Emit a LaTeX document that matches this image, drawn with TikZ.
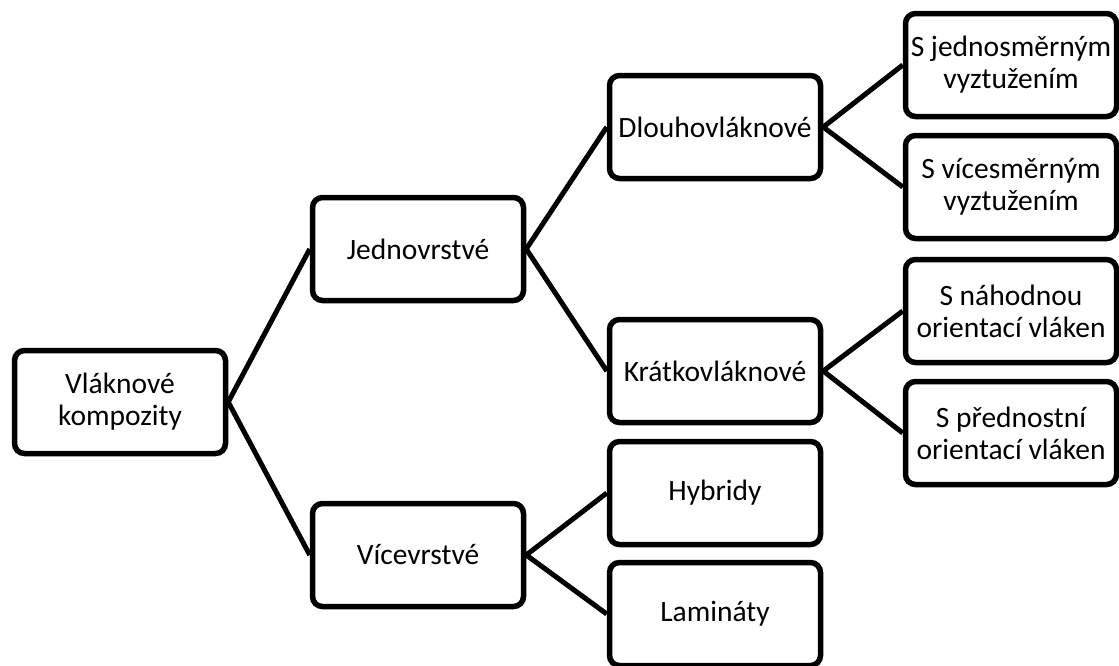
\documentclass[tikz,border=0pt]{standalone}
\usepackage{fontspec}
\setmainfont{Carlito}

\begin{document}
\begin{tikzpicture}[
    x=1pt, y=-1pt,
    box/.style={draw, line width=5.5pt, rounded corners=10pt, align=center,
      minimum width=211pt, minimum height=103pt, inner sep=0pt,
      font=\fontsize{29.5}{32}\selectfont},
    link/.style={line width=5pt},
  ]
  \useasboundingbox (0,0) rectangle (1119,665);

  % root
  \node[box] (vk) at (120,402) {Vláknové\\kompozity};

  % second level
  \node[box] (jedno) at (418,249) {Jednovrstvé};
  \node[box] (vice) at (418,555) {Vícevrstvé};

  % third level
  \node[box] (dlouho) at (715,127) {Dlouhovláknové};
  \node[box] (kratko) at (715,371) {Krátkovláknové};
  \node[box] (hybr) at (715,493) {Hybridy};
  \node[box] (lamin) at (715,614) {Lamináty};

  % leaves
  \node[box] (sjedn) at (1011,65) {S jednosměrným\\vyztužením};
  \node[box] (svice) at (1011,187) {S vícesměrným\\vyztužením};
  \node[box] (snah) at (1011,311) {S náhodnou\\orientací vláken};
  \node[box] (spred) at (1011,433) {S přednostní\\orientací vláken};

  \draw[link] (vk.east) -- (jedno.west);
  \draw[link] (vk.east) -- (vice.west);
  \draw[link] (jedno.east) -- (dlouho.west);
  \draw[link] (jedno.east) -- (kratko.west);
  \draw[link] (vice.east) -- (hybr.west);
  \draw[link] (vice.east) -- (lamin.west);
  \draw[link] (dlouho.east) -- (sjedn.west);
  \draw[link] (dlouho.east) -- (svice.west);
  \draw[link] (kratko.east) -- (snah.west);
  \draw[link] (kratko.east) -- (spred.west);
\end{tikzpicture}
\end{document}
